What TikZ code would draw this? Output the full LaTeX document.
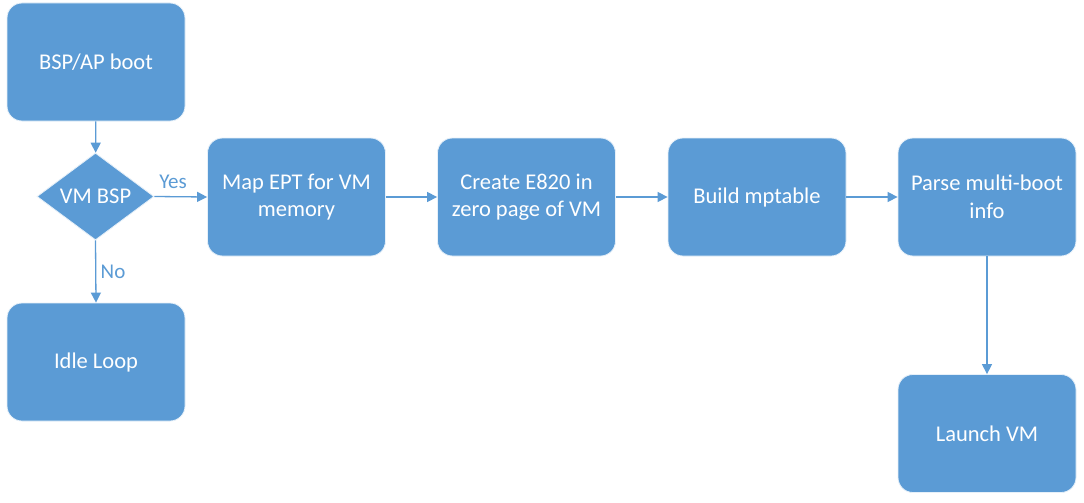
\documentclass[tikz,border=0pt]{standalone}
\usepackage{fontspec}
\setmainfont{Carlito}
\usetikzlibrary{shapes.geometric,arrows.meta}
\definecolor{boxblue}{HTML}{5B9BD5}
\begin{document}
\begin{tikzpicture}[x=1pt,y=-1pt,
  stepbox/.style={draw=white!85!boxblue,line width=0.8pt,fill=boxblue,rounded corners=15pt,minimum width=178pt,minimum height=118pt,align=center,text=white,font=\fontsize{22.5}{27.5}\selectfont,inner sep=0pt},
  decision/.style={diamond,draw=white!85!boxblue,line width=0.8pt,fill=boxblue,minimum width=117pt,minimum height=87pt,aspect=1.35,inner sep=0pt,text=white,font=\fontsize{22.5}{27.5}\selectfont},
  conn/.style={draw=boxblue,line width=1.3pt,-{Triangle[length=10pt,width=10pt]}},
  lbl/.style={text=boxblue,font=\fontsize{21}{24}\selectfont,inner sep=0pt}]
\useasboundingbox (0,0) rectangle (1084,503);
\fill[white] (0,0) rectangle (1084,503);
\node[stepbox] (boot) at (96,62) {BSP/AP boot};
\node[decision] (dec) at (95.5,196.5) {};
\node[text=white,font=\fontsize{22.5}{27.5}\selectfont,inner sep=0pt] (declbl) at (95.5,196.5) {VM BSP};
\node[stepbox] (idle) at (96,362) {Idle Loop};
\node[stepbox] (ept) at (296.5,197) {Map EPT for VM\\memory};
\node[stepbox] (e820) at (526.5,197) {Create E820 in\\zero page of VM};
\node[stepbox] (mpt) at (757,197) {Build mptable};
\node[stepbox] (parse) at (987,197) {Parse multi-boot\\info};
\node[stepbox] (launch) at (987,433.5) {Launch VM};
\draw[conn] (boot) -- (dec);
\draw[conn] (dec.east) -- (ept.west);
\draw[conn] (dec.south) -- (idle.north);
\draw[conn] (ept) -- (e820);
\draw[conn] (e820) -- (mpt);
\draw[conn] (mpt) -- (parse);
\draw[conn] (parse) -- (launch);
\node[lbl] (yes) at (173,182) {Yes};
\node[lbl] (no) at (113,272) {No};
\end{tikzpicture}
\end{document}
